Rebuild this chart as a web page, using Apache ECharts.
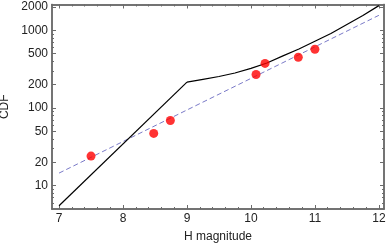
<!DOCTYPE html>
<html><head><meta charset="utf-8">
<script src="https://cdn.jsdelivr.net/npm/echarts@6/dist/echarts.min.js"></script>
<style>html,body{margin:0;padding:0;background:#fff}#c{width:389px;height:246px}</style>
</head><body><div id="c"></div>
<script>
// tick labels
const xTicks = [7, 8, 9, 10, 11, 12];
const xMinor = [7.2, 7.4, 7.6, 7.8, 8.2, 8.4, 8.6, 8.8, 9.2, 9.4, 9.6, 9.8, 10.2, 10.4, 10.6, 10.8, 11.2, 11.4, 11.6, 11.8];
const yTicks = [10, 20, 50, 100, 200, 500, 1000, 2000];
const yMinor = [6, 7, 8, 9, 30, 40, 60, 70, 80, 90, 300, 400, 600, 700, 800, 900];
// model curve (black): steep segment then curved segment
const steepX = [7, 9];
const steepY = [5.5, 215];
const curveX = [9, 9.25, 9.5, 9.75, 10, 10.25, 10.5, 10.75, 11, 11.25, 11.5, 11.75, 12];
const curveY = [215, 234, 254, 282, 324, 380, 468, 575, 724, 912, 1189, 1549, 2080];
// power-law fit (dashed)
const fitX = [7, 12];
const fitY = [14.5, 1560];
// observed points (red)
const obsX = [7.5, 8.48, 8.74, 10.08, 10.22, 10.74, 11.0];
const obsY = [24, 47, 69, 270, 375, 450, 570];

const zip = (a, b) => a.map((v, i) => [v, b[i]]);
const frame = { color: '#6b6b6b', width: 1.5 };
const tickStyle = { color: '#6b6b6b', width: 1 };
const font = { fontFamily: 'Liberation Sans, Arial, sans-serif', fontSize: 12, color: '#222' };
const XMIN = 6.89, XMAX = 12.08, YMIN = 5, YMAX = 2150;

function xAx(pos, vals, len, labels, extra) {
  return Object.assign({
    type: 'value', min: XMIN, max: XMAX, position: pos,
    axisLine: { show: true, onZero: false, lineStyle: frame },
    axisTick: { show: true, inside: true, length: len, customValues: vals, lineStyle: tickStyle },
    axisLabel: labels ? Object.assign({ customValues: vals, margin: 4 }, font) : { show: false },
    splitLine: { show: false }
  }, extra || {});
}
function yAx(pos, vals, len, labels, extra) {
  return Object.assign({
    type: 'log', logBase: 10, min: YMIN, max: YMAX, position: pos,
    axisLine: { show: true, onZero: false, lineStyle: frame },
    axisTick: { show: true, inside: true, length: len, customValues: vals, lineStyle: tickStyle },
    axisLabel: labels ? Object.assign({ customValues: vals, margin: 4, formatter: v => String(Math.round(v)) }, font) : { show: false },
    splitLine: { show: false }
  }, extra || {});
}

const chart = echarts.init(document.getElementById('c'), null, { renderer: 'canvas' });
chart.setOption({
  animation: false,
  backgroundColor: '#fff',
  grid: { left: 52, right: 5, top: 4.5, bottom: 37, containLabel: false, outerBoundsMode: 'none' },
  xAxis: [
    xAx('bottom', xTicks, 4, true, {
      name: 'H magnitude', nameLocation: 'middle', nameGap: 22,
      nameTextStyle: { fontFamily: font.fontFamily, fontSize: 12, color: '#222' }
    }),
    xAx('bottom', xMinor, 2, false),
    xAx('top', xTicks, 4, false),
    xAx('top', xMinor, 2, false)
  ],
  yAxis: [
    yAx('left', yTicks, 4, true, {
      name: 'CDF', nameLocation: 'middle', nameGap: 38, nameRotate: 90,
      nameTextStyle: { fontFamily: font.fontFamily, fontSize: 12, color: '#222' }
    }),
    yAx('left', yMinor, 2, false),
    yAx('right', yTicks, 4, false),
    yAx('right', yMinor, 2, false)
  ],
  series: [
    { type: 'line', xAxisIndex: 0, yAxisIndex: 0, data: zip(fitX, fitY), showSymbol: false,
      lineStyle: { color: '#7a7ac8', width: 1, type: [5, 3] }, z: 2 },
    { type: 'line', xAxisIndex: 0, yAxisIndex: 0, data: zip(steepX, steepY), showSymbol: false,
      lineStyle: { color: '#000', width: 1.2 }, z: 3 },
    { type: 'line', xAxisIndex: 0, yAxisIndex: 0, data: zip(curveX, curveY), showSymbol: false,
      smooth: false,
      lineStyle: { color: '#000', width: 1.2 }, z: 3 },
    { type: 'scatter', xAxisIndex: 0, yAxisIndex: 0, data: zip(obsX, obsY), symbolSize: 9,
      itemStyle: { color: '#ff0000' }, z: 4 }
  ]
});
</script>
</body></html>
